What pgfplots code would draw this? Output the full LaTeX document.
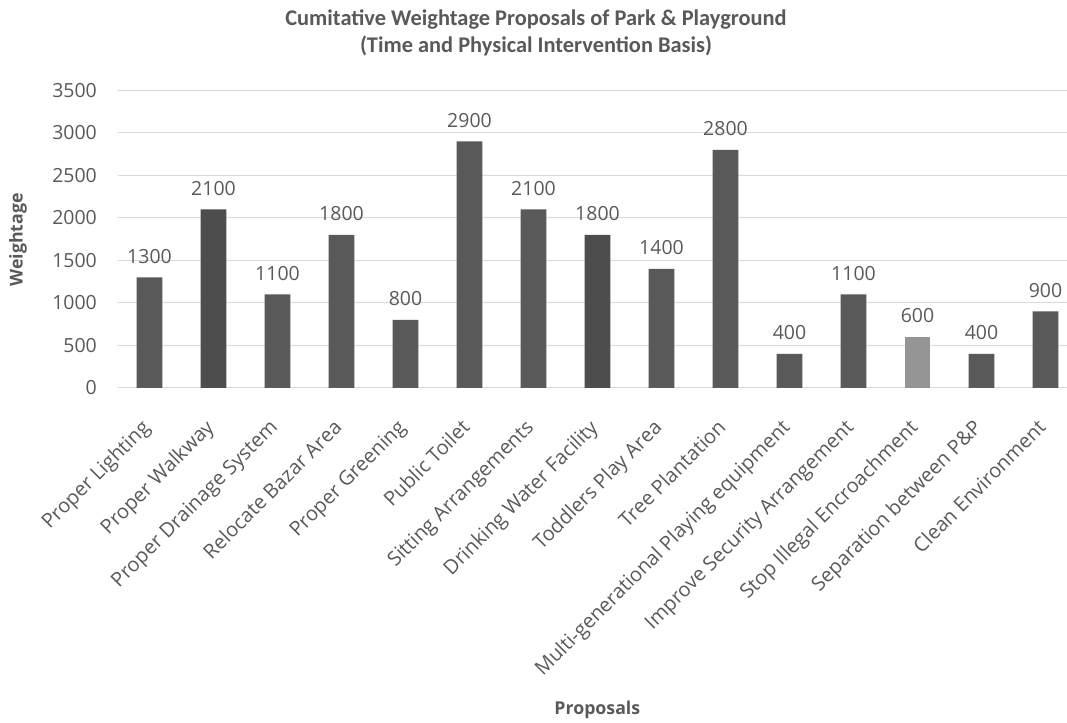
\documentclass[border=0pt]{standalone}
\usepackage{fontspec}
\setmainfont{Open Sans}
\newfontfamily\titlefont{Carlito}
\usepackage{pgfplots}
\pgfplotsset{compat=1.18}
\definecolor{txt}{HTML}{595959}
\definecolor{barA}{HTML}{595959}
\definecolor{barB}{HTML}{4D4D4D}
\definecolor{barC}{HTML}{959595}
\definecolor{gridc}{HTML}{D9D9D9}
\begin{document}
\begin{tikzpicture}[x=1pt,y=1pt]
\useasboundingbox (0pt,0pt) rectangle (800.25pt,542.25pt);
\node[font=\titlefont\bfseries\fontsize{16.8}{20}\selectfont, text=txt] at (402pt,527.25pt) {Cumitative Weightage Proposals of Park \& Playground};
\node[font=\titlefont\bfseries\fontsize{16.8}{20}\selectfont, text=txt] at (402pt,507.75pt) {(Time and Physical Intervention Basis)};
\node[font=\bfseries\fontsize{13.3}{16}\selectfont, text=txt, rotate=90] at (13.5pt,362.25pt) {Weightage};
\node[font=\bfseries\fontsize{13.3}{16}\selectfont, text=txt] at (448pt,9.75pt) {Proposals};
\begin{axis}[
  at={(88.125pt,251.25pt)}, anchor=south west,
  scale only axis, width=712.125pt, height=223.125pt,
  xmin=-0.5, xmax=14.336, ymin=0, ymax=3500,
  ytick={0,500,...,3500},
  xtick={0,...,14},
  xticklabels={Proper Lighting,Proper Walkway,Proper Drainage System,Relocate Bazar Area,Proper Greening,Public Toilet,Sitting Arrangements,Drinking Water Facility,Toddlers Play Area,Tree Plantation,Multi-generational Playing equipment,Improve Security Arrangement,Stop Illegal Encroachment,Separation between P\&P,Clean Environment},
  xticklabel style={xshift=-7pt, yshift=-21pt, rotate=45, anchor=north east, font=\fontsize{15}{18}\selectfont, text=txt, inner sep=1pt},
  yticklabel style={font=\fontsize{14.6}{17}\selectfont, text=txt, xshift=-12pt},
  /pgf/number format/assume math mode=true,
  /pgf/number format/1000 sep={},
  axis line style={draw=none},
  major tick length=0pt,
  ymajorgrids, grid style={gridc, line width=0.75pt},
  ybar, bar width=19.3pt, bar shift=0pt,
  nodes near coords,
  every node near coord/.append style={font=\fontsize{14.6}{17}\selectfont, text=txt, yshift=7pt},
  clip=false,
]
\addplot[fill=barA, draw=none] coordinates {(0,1300) (2,1100) (3,1800) (4,800) (5,2900) (6,2100) (8,1400) (9,2800) (10,400) (11,1100) (13,400) (14,900)};
\addplot[fill=barB, draw=none] coordinates {(1,2100) (7,1800)};
\addplot[fill=barC, draw=none] coordinates {(12,600)};
\end{axis}
\end{tikzpicture}
\end{document}
